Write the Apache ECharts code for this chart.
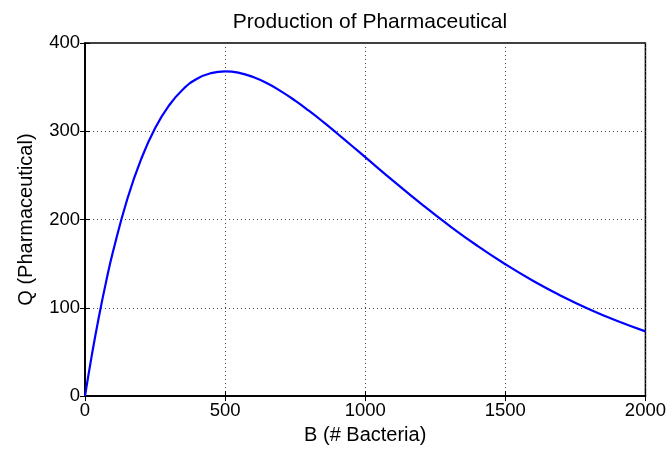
<!DOCTYPE html>
<html><head><meta charset="utf-8">
<script src="https://cdn.jsdelivr.net/npm/echarts@6/dist/echarts.min.js"></script>
<style>html,body{margin:0;padding:0;background:#fff}#c{width:669px;height:450px}</style>
</head><body><div id="c"></div>
<script>
const bacteria = [0,25,50,75,100,150,200,250,300,350,400,450,500,550,600,650,700,750,800,850,900,950,1000,1100,1200,1300,1400,1500,1600,1700,1800,1900,2000];
const production = [0,47.6,90.5,129.1,163.7,222.2,268.1,303.3,329.3,347.6,359.5,365.9,367.9,366.2,361.4,354.3,345.2,334.7,323.0,310.6,297.5,284.2,270.7,243.8,217.7,193.1,170.3,149.4,130.4,113.5,98.4,85.0,73.3];
const xTicks = [0,500,1000,1500,2000];
const yTicks = [0,100,200,300,400];

const font = 'Liberation Sans, Arial, sans-serif';
const chart = echarts.init(document.getElementById('c'));
const axisCommon = {
  axisLine:{show:true,lineStyle:{color:'#000',width:1.5}},
  axisTick:{show:true,inside:true,length:5,lineStyle:{color:'#000',width:1}},
};
chart.setOption({
  animation:false,
  title:{text:'Production of Pharmaceutical',left:365,textAlign:'center',top:7,
    textStyle:{fontFamily:font,fontSize:21,fontWeight:'normal',color:'#000'}},
  grid:{left:85,right:22,top:43,bottom:51,show:true,borderColor:'#000',borderWidth:1.5},
  xAxis:[{type:'value',min:0,max:2000,interval:500,...axisCommon,
    name:'B (# Bacteria)',nameLocation:'middle',nameGap:28,
    nameTextStyle:{fontFamily:font,fontSize:20,color:'#000'},
    axisLabel:{fontFamily:font,fontSize:18.5,color:'#000',margin:5,
      formatter:v=>xTicks.includes(v)?String(v):''},
    splitLine:{show:true,lineStyle:{color:'#444',type:[1,3],width:1}}},
   {type:'value',position:'top',min:0,max:2000,interval:500,...axisCommon,
    axisLabel:{show:false},splitLine:{show:false}}],
  yAxis:[{type:'value',min:0,max:400,interval:100,...axisCommon,
    name:'Q (Pharmaceutical)',nameLocation:'middle',nameGap:49,
    nameTextStyle:{fontFamily:font,fontSize:20,color:'#000'},
    axisLabel:{fontFamily:font,fontSize:18.5,color:'#000',margin:5,
      formatter:v=>yTicks.includes(v)?String(v):''},
    splitLine:{show:true,lineStyle:{color:'#444',type:[1,3],width:1}}},
   {type:'value',position:'right',min:0,max:400,interval:100,...axisCommon,
    axisLabel:{show:false},splitLine:{show:false}}],
  series:[{type:'line',data:bacteria.map((b,i)=>[b,production[i]]),smooth:true,
    showSymbol:false,lineStyle:{color:'#0000ff',width:2.2},z:5}]
});
</script></body></html>
